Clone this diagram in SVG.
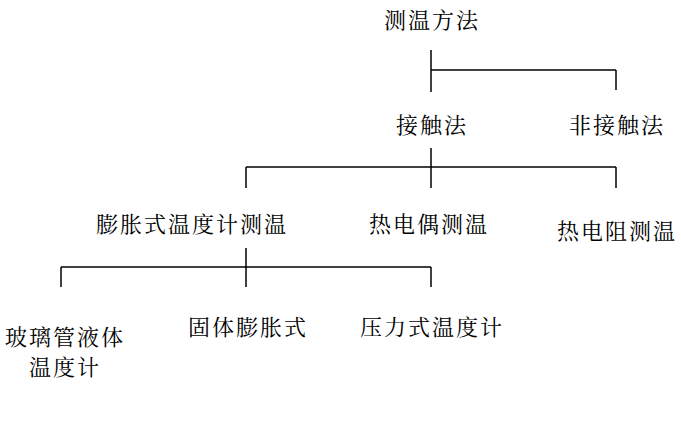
<svg xmlns="http://www.w3.org/2000/svg" width="681" height="432" viewBox="0 0 681 432">
<style>
text{font-family:"Noto Serif CJK SC","Noto Sans CJK SC",sans-serif;font-size:22px;fill:#000;text-anchor:middle;letter-spacing:2px}
line{stroke:#000;stroke-width:1.5}
</style>
<rect width="681" height="432" fill="#fff"/>
<g id="connectors">
<line x1="431" y1="50" x2="431" y2="92"/>
<line x1="431" y1="70" x2="616" y2="70"/>
<line x1="616" y1="70" x2="616" y2="90"/>
<line x1="431" y1="148" x2="431" y2="188"/>
<line x1="246" y1="167" x2="616" y2="167"/>
<line x1="246" y1="167" x2="246" y2="188"/>
<line x1="616" y1="167" x2="616" y2="188"/>
<line x1="246" y1="248" x2="246" y2="287"/>
<line x1="61" y1="267" x2="431" y2="267"/>
<line x1="61" y1="267" x2="61" y2="287"/>
<line x1="431" y1="267" x2="431" y2="287"/>
</g>
<g id="n1"><text x="432" y="28">测温方法</text></g>
<g id="n2"><text x="432" y="133">接触法</text></g>
<g id="n3"><text x="617" y="133">非接触法</text></g>
<g id="n4"><text x="192" y="232">膨胀式温度计测温</text></g>
<g id="n5"><text x="429" y="232">热电偶测温</text></g>
<g id="n6"><text x="617" y="239">热电阻测温</text></g>
<g id="n7"><text x="65" y="345">玻璃管液体</text><text x="65" y="375">温度计</text></g>
<g id="n8"><text x="248" y="335">固体膨胀式</text></g>
<g id="n9"><text x="432" y="335">压力式温度计</text></g>
</svg>
